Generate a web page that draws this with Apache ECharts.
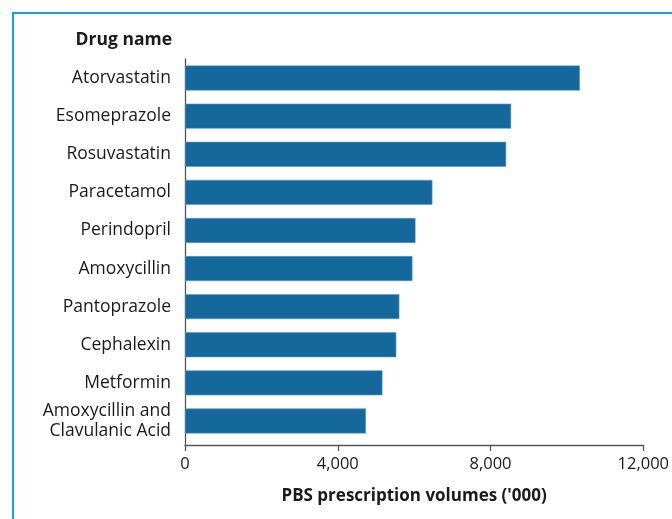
<!DOCTYPE html>
<html>
<head>
<meta charset="utf-8">
<script src="https://cdn.jsdelivr.net/npm/echarts@6/dist/echarts.min.js"></script>
<style>
  html, body { margin: 0; padding: 0; background: #fff; }
  #frame {
    position: absolute; left: 12px; top: 12px; right: -10px; bottom: -10px;
    border-left: 2.5px solid #0fa3e2; border-top: 2.5px solid #0fa3e2;
  }
  #chart { position: absolute; left: 0; top: 0; width: 672px; height: 519px; }
</style>
</head>
<body>
<div id="frame"></div>
<div id="chart"></div>
<script>
// Top 10 drugs by PBS prescription volume ('000)
const drugs = [
  'Atorvastatin',
  'Esomeprazole',
  'Rosuvastatin',
  'Paracetamol',
  'Perindopril',
  'Amoxycillin',
  'Pantoprazole',
  'Cephalexin',
  'Metformin',
  'Amoxycillin and\nClavulanic Acid'
];
const volumes = [10280, 8490, 8360, 6440, 6000, 5920, 5580, 5500, 5140, 4710];
const xTicks = [0, 4000, 8000, 12000];

const chart = echarts.init(document.getElementById('chart'));
const font = '"Open Sans", "Noto Sans", sans-serif';
const axisColor = '#555';

const option = {
  animation: false,
  textStyle: { fontFamily: font },
  grid: [
    // frame grid: carries the axis lines, ticks and names
    { left: 185, right: 26, top: 59, bottom: 74 },
    // bar grid: slightly shorter so the last bar sits above the x axis
    { left: 185, right: 26, top: 59, height: 381 }
  ],
  xAxis: [
    {
      gridIndex: 0,
      type: 'value',
      min: xTicks[0],
      max: xTicks[xTicks.length - 1],
      interval: 4000,
      axisLine: { show: true, lineStyle: { color: axisColor, width: 1.3 } },
      axisTick: { show: true, length: 6, lineStyle: { color: axisColor, width: 1.3 } },
      splitLine: { show: false },
      axisLabel: {
        color: '#1a1a1a', fontSize: 16.5, margin: 11, fontFamily: font,
        formatter: v => v.toLocaleString('en-US')
      },
      name: "PBS prescription volumes ('000)",
      nameLocation: 'middle',
      nameGap: 43,
      nameTextStyle: { color: '#1a1a1a', fontSize: 17, fontWeight: 'bold', fontFamily: font }
    },
    {
      gridIndex: 1,
      type: 'value',
      min: xTicks[0],
      max: xTicks[xTicks.length - 1],
      show: false
    }
  ],
  yAxis: [
    {
      gridIndex: 0,
      type: 'category',
      data: [''],
      axisLine: { show: true, lineStyle: { color: axisColor, width: 1.3 } },
      axisTick: { show: false },
      axisLabel: { show: false },
      name: 'Drug name',
      nameLocation: 'end',
      nameGap: 10,
      nameTextStyle: {
        color: '#1a1a1a', fontSize: 17.5, fontWeight: 'bold', fontFamily: font,
        align: 'right', padding: [0, 13, 0, 0]
      }
    },
    {
      gridIndex: 1,
      type: 'category',
      inverse: true,
      data: drugs,
      axisLine: { show: false },
      axisTick: { show: false },
      axisLabel: {
        color: '#1a1a1a', fontSize: 17.5, margin: 14, lineHeight: 19.5,
        fontFamily: font, align: 'right'
      }
    }
  ],
  series: [
    {
      type: 'bar',
      xAxisIndex: 1,
      yAxisIndex: 1,
      data: volumes,
      barWidth: 25,
      itemStyle: { color: '#14689c', borderColor: '#5b9cc4', borderWidth: 0.6 }
    }
  ]
};

chart.setOption(option);
</script>
</body>
</html>
